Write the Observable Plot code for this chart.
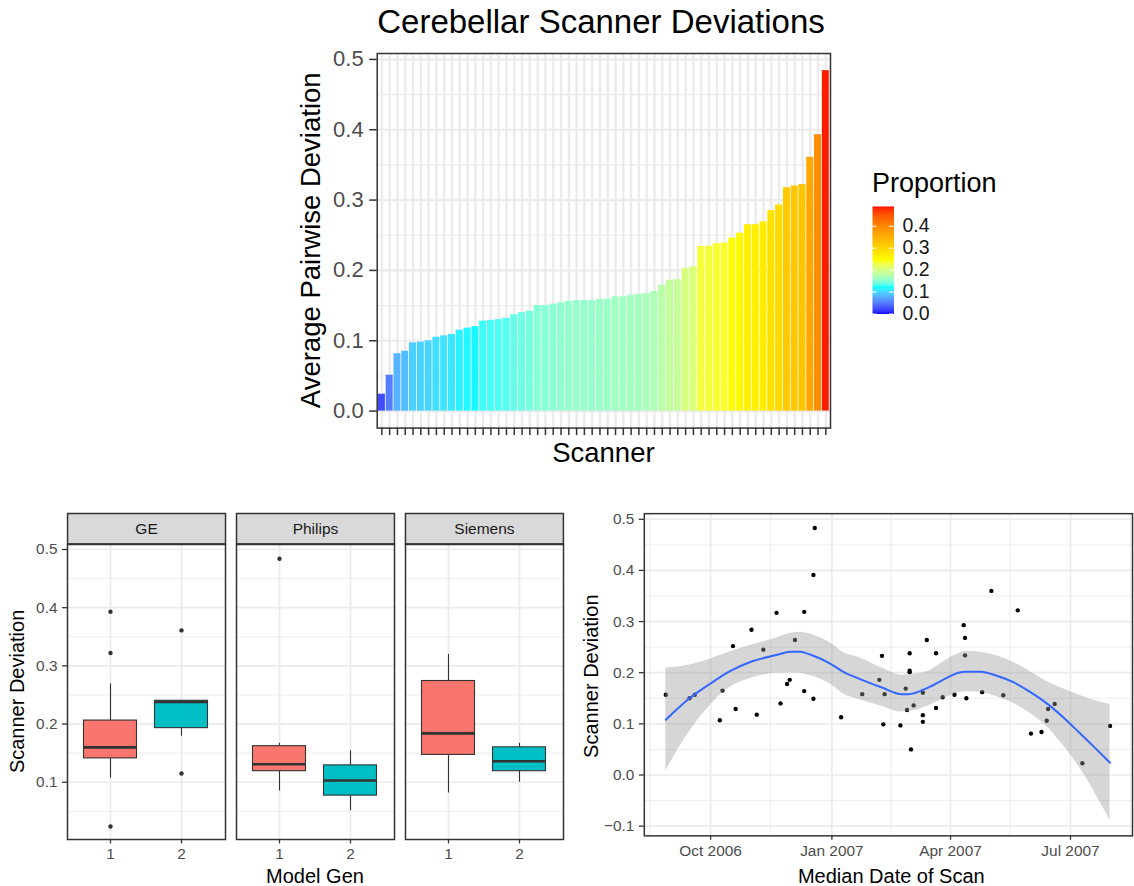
<!DOCTYPE html>
<html>
<head>
<meta charset="utf-8">
<script src="https://cdn.jsdelivr.net/npm/d3@7"></script>
<script src="https://cdn.jsdelivr.net/npm/@observablehq/plot@0.6"></script>
<style>
html, body { margin: 0; padding: 0; background: #fff; overflow: hidden; }
#root { position: relative; width: 1134px; height: 886px; overflow: hidden; background: #fff; }
.part { position: absolute; }
.part svg { display: block; overflow: visible; }
</style>
</head>
<body>
<div id="root"></div>
<script>
// ---------------- DATA ----------------
// Top: average pairwise deviation per scanner (sorted)
const scannerDeviation = [
  0.024, 0.051, 0.0815, 0.085, 0.097, 0.098, 0.100, 0.105, 0.107, 0.109,
  0.115, 0.118, 0.120, 0.128, 0.129, 0.130, 0.132, 0.137, 0.140, 0.142,
  0.150, 0.150, 0.152, 0.154, 0.156, 0.157, 0.157, 0.157, 0.159, 0.159,
  0.1625, 0.1625, 0.1645, 0.166, 0.167, 0.170, 0.179, 0.186, 0.187, 0.203,
  0.205, 0.234, 0.2345, 0.238, 0.239, 0.246, 0.253, 0.265, 0.265, 0.269,
  0.285, 0.293, 0.3175, 0.320, 0.322, 0.361, 0.393, 0.484
];
const scannerLabels = scannerDeviation.map((_, i) => "S" + String(i + 1).padStart(2, "0"));
const devMajorTicks = [0, 0.1, 0.2, 0.3, 0.4, 0.5];
const devMinorTicks = [0.05, 0.15, 0.25, 0.35, 0.45];
const legendTicks = [0, 0.1, 0.2, 0.3, 0.4];

// Bottom-left: box plot summaries
const makes = ["GE", "Philips", "Siemens"];
const boxMake   = ["GE", "GE", "Philips", "Philips", "Siemens", "Siemens"];
const boxGen    = ["1", "2", "1", "2", "1", "2"];
const boxLower  = [0.107, 0.179, 0.085, 0.051, 0.0815, 0.100];
const boxQ1     = [0.141, 0.193, 0.119, 0.077, 0.147, 0.119];
const boxMedian = [0.160, 0.238, 0.131, 0.103, 0.184, 0.136];
const boxQ3     = [0.206, 0.240, 0.162, 0.129, 0.274, 0.160];
const boxUpper  = [0.269, 0.240, 0.167, 0.154, 0.320, 0.167];
const outlierMake  = ["GE", "GE", "GE", "GE", "GE", "Philips"];
const outlierGen   = ["1", "1", "1", "2", "2", "1"];
const outlierValue = [0.393, 0.322, 0.024, 0.361, 0.115, 0.484];
const boxMajorTicks = [0.1, 0.2, 0.3, 0.4, 0.5];
const boxMinorTicks = [0.05, 0.15, 0.25, 0.35, 0.45];

// Bottom-right: scanner deviation vs median scan date
const scanDates = ["2006-08-28","2006-09-15","2006-09-19","2006-10-10","2006-10-08","2006-10-18","2006-10-20","2006-11-01","2006-11-05","2006-11-10",
  "2006-11-20","2006-11-23","2006-11-28","2006-11-30","2006-12-04","2006-12-11","2006-12-11","2006-12-19","2006-12-18","2006-12-18",
  "2007-01-08","2007-01-24","2007-02-08","2007-02-06","2007-02-10","2007-02-09","2007-02-22","2007-02-26","2007-02-27","2007-03-01",
  "2007-03-01","2007-03-01","2007-03-02","2007-03-04","2007-03-11","2007-03-11","2007-03-11","2007-03-14","2007-03-21","2007-03-21",
  "2007-03-26","2007-04-04","2007-04-11","2007-04-12","2007-04-12","2007-04-13","2007-05-02","2007-04-25","2007-05-11","2007-05-22",
  "2007-06-01","2007-06-09","2007-06-13","2007-06-14","2007-06-19","2007-07-10","2007-07-31"];
const scanDeviation = [0.157,0.150,0.157,0.165,0.107,0.252,0.129,0.284,0.118,0.245,
  0.317,0.140,0.178,0.186,0.264,0.319,0.164,0.483,0.391,0.149,
  0.113,0.158,0.233,0.186,0.158,0.099,0.097,0.169,0.127,0.238,
  0.204,0.201,0.050,0.136,0.161,0.117,0.104,0.264,0.238,0.131,
  0.152,0.157,0.293,0.268,0.234,0.150,0.360,0.162,0.156,0.322,
  0.081,0.084,0.106,0.129,0.139,0.023,0.096];
// loess fit
const fitDates = ["2006-08-28","2006-09-15","2006-10-01","2006-10-15","2006-11-01","2006-11-19","2006-12-01","2006-12-08","2006-12-16","2007-01-01",
  "2007-01-10","2007-01-21","2007-02-08","2007-02-23","2007-02-28","2007-03-15","2007-03-30","2007-04-07","2007-04-13","2007-04-24",
  "2007-05-06","2007-05-19","2007-05-31","2007-06-13","2007-06-25","2007-07-08","2007-07-20","2007-07-31"];
const fitValue = [0.108,0.150,0.179,0.202,0.222,0.234,0.241,0.241,0.235,0.216,
  0.201,0.189,0.171,0.158,0.158,0.171,0.191,0.200,0.202,0.202,
  0.194,0.181,0.163,0.140,0.114,0.082,0.052,0.024];
const fitLower = [0.008,0.085,0.137,0.170,0.189,0.199,0.200,0.199,0.194,0.176,
  0.158,0.148,0.134,0.123,0.124,0.135,0.153,0.161,0.163,0.162,
  0.153,0.140,0.121,0.095,0.059,0.014,-0.037,-0.089];
const fitUpper = [0.209,0.215,0.227,0.240,0.254,0.267,0.277,0.279,0.275,0.256,
  0.239,0.230,0.209,0.195,0.196,0.203,0.227,0.237,0.242,0.240,
  0.233,0.220,0.203,0.183,0.169,0.156,0.145,0.138];
const dateMajorTicks = ["2006-10-01", "2007-01-01", "2007-04-01", "2007-07-01"];
const dateMinorTicks = ["2006-08-16T00:00:00Z", "2006-11-15T12:00:00Z", "2007-02-15T00:00:00Z", "2007-05-16T00:00:00Z", "2007-08-15T12:00:00Z"];
const scatMajorTicks = [-0.1, 0, 0.1, 0.2, 0.3, 0.4, 0.5];
const scatMinorTicks = [-0.05, 0.05, 0.15, 0.25, 0.35, 0.45];

// ---------------- STYLE ----------------
const FONT = '"Liberation Sans", Arial, Helvetica, sans-serif';
const GRID = "#EBEBEB";
const INK = "#333333";
const TICKTXT = "#4D4D4D";
const fmt1 = d3.format(".1f");
const colorSpec = {
  type: "linear",
  domain: [0, 0.1225, 0.245, 0.49],
  range: ["#0000FF", "#00FFFF", "#FFFF00", "#FF0000"],
  interpolate: "lab"
};
const baseStyle = {fontFamily: FONT, background: "transparent", overflow: "visible"};

const root = document.getElementById("root");
function place(el, left, top) {
  const d = document.createElement("div");
  d.className = "part";
  d.style.left = left + "px";
  d.style.top = top + "px";
  d.appendChild(el);
  root.appendChild(d);
}

// ---------------- TOP BAR CHART ----------------
const barData = scannerDeviation.map((v, i) => ({scanner: scannerLabels[i], deviation: v}));
const topPlot = Plot.plot({
  width: 1134, height: 472,
  marginLeft: 376.7, marginRight: 1134 - 830, marginTop: 53, marginBottom: 472 - 427.6,
  style: baseStyle,
  x: {type: "band", domain: scannerLabels, paddingInner: 0.1, paddingOuter: 0.15},
  y: {domain: [-0.0242, 0.5084]},
  color: colorSpec,
  marks: [
    Plot.gridY(devMinorTicks, {stroke: GRID, strokeOpacity: 1, strokeWidth: 1.1}),
    Plot.gridY(devMajorTicks, {stroke: GRID, strokeOpacity: 1, strokeWidth: 2.2}),
    Plot.gridX({stroke: GRID, strokeOpacity: 1, strokeWidth: 2.4}),
    Plot.barY(barData, {x: "scanner", y: "deviation", fill: "deviation"}),
    Plot.frame({stroke: INK, strokeWidth: 1.5}),
    Plot.axisY(devMajorTicks, {tickSize: 7.5, tickPadding: 6, tickFormat: fmt1, fontSize: 22,
      fill: TICKTXT, stroke: INK, strokeWidth: 1.5, label: null}),
    Plot.axisX({tickSize: 7.5, tickPadding: 0, tickFormat: () => "", stroke: INK, strokeWidth: 1.5, label: null})
  ]
});
place(topPlot, 0, 0);

// legend colour bar
const legendBarMark = (typeof Plot.raster === "function")
  ? Plot.raster({x1: 0, x2: 1, y1: 0, y2: 0.49, width: 1, height: 256, fill: (x, y) => y})
  : Plot.rectY(d3.range(0, 0.49, 0.0049), {x1: 0, x2: 1, y1: d => d, y2: d => d + 0.0052, fill: d => d});
const legendPlot = Plot.plot({
  width: 150, height: 125,
  marginLeft: 12, marginRight: 150 - 12 - 21.5, marginTop: 6, marginBottom: 125 - 6 - 107.5,
  style: baseStyle,
  x: {domain: [0, 1], axis: null},
  y: {domain: [0, 0.49]},
  color: colorSpec,
  marks: [
    legendBarMark,
    Plot.tickY(legendTicks, {y: d => d, stroke: "white", strokeWidth: 1, insetRight: 17}),
    Plot.tickY(legendTicks, {y: d => d, stroke: "white", strokeWidth: 1, insetLeft: 17}),
    Plot.axisY(legendTicks, {anchor: "right", tickSize: 0, tickPadding: 8.5, fontSize: 19.5,
      fill: "#1A1A1A", tickFormat: fmt1, label: null})
  ]
});
place(legendPlot, 860, 200);

// ---------------- BOTTOM-LEFT BOX PLOTS ----------------
const boxStats = boxMake.map((m, i) => ({
  make: m, gen: boxGen[i], lo: boxLower[i], q1: boxQ1[i], med: boxMedian[i], q3: boxQ3[i], hi: boxUpper[i]
}));
const outliers = outlierMake.map((m, i) => ({make: m, gen: outlierGen[i], value: outlierValue[i]}));
const fxSpec = {domain: makes, paddingInner: 0.0642, paddingOuter: 0, axis: null, label: null};

const stripPlot = Plot.plot({
  width: 570, height: 30.4,
  marginLeft: 65.5, marginRight: 5.5, marginTop: 0, marginBottom: 0,
  style: baseStyle,
  fx: fxSpec,
  marks: [
    Plot.frame({fill: "#D9D9D9", stroke: INK, strokeWidth: 1.5}),
    Plot.text(makes, {fx: d => d, text: d => d, frameAnchor: "middle", fontSize: 15.5, fill: "#1A1A1A"})
  ]
});
place(stripPlot, 0, 513.3);

const boxPlot = Plot.plot({
  width: 570, height: 342,
  marginLeft: 65.5, marginRight: 5.5, marginTop: 0, marginBottom: 47,
  style: baseStyle,
  fx: fxSpec,
  x: {type: "band", domain: ["1", "2"], paddingInner: 0.25, paddingOuter: 0.225},
  y: {domain: [0.0016, 0.5086]},
  color: {type: "ordinal", domain: ["1", "2"], range: ["#F8766D", "#00BFC4"]},
  marks: [
    Plot.gridY(boxMinorTicks, {stroke: GRID, strokeOpacity: 1, strokeWidth: 0.9}),
    Plot.gridY(boxMajorTicks, {stroke: GRID, strokeOpacity: 1, strokeWidth: 1.7}),
    Plot.gridX({stroke: GRID, strokeOpacity: 1, strokeWidth: 1.7}),
    Plot.ruleX(boxStats, {fx: "make", x: "gen", y1: "q3", y2: "hi", stroke: INK, strokeWidth: 1.1}),
    Plot.ruleX(boxStats, {fx: "make", x: "gen", y1: "lo", y2: "q1", stroke: INK, strokeWidth: 1.1}),
    Plot.barY(boxStats, {fx: "make", x: "gen", y1: "q1", y2: "q3", fill: "gen", stroke: INK, strokeWidth: 1.1}),
    Plot.tickY(boxStats, {fx: "make", x: "gen", y: "med", stroke: INK, strokeWidth: 2.6}),
    Plot.dot(outliers, {fx: "make", x: "gen", y: "value", r: 2.2, fill: INK, stroke: null}),
    Plot.frame({stroke: INK, strokeWidth: 1.5}),
    Plot.axisY(boxMajorTicks, {tickSize: 5, tickPadding: 5, tickFormat: fmt1, fontSize: 15.4,
      fill: TICKTXT, stroke: INK, strokeWidth: 1.3, label: null}),
    Plot.axisX({tickSize: 4.5, tickPadding: 4.5, fontSize: 15.4, fill: TICKTXT, stroke: INK, strokeWidth: 1.3, label: null})
  ]
});
place(boxPlot, 0, 544);

// ---------------- BOTTOM-RIGHT SCATTER + SMOOTH ----------------
const points = scanDates.map((d, i) => ({date: new Date(d), dev: scanDeviation[i]}));
const fit = fitDates.map((d, i) => ({date: new Date(d), fit: fitValue[i], lo: fitLower[i], hi: fitUpper[i]}));
const majorDates = dateMajorTicks.map(d => new Date(d));
const minorDates = dateMinorTicks.map(d => new Date(d));

const scatterPlot = Plot.plot({
  width: 560, height: 386,
  marginLeft: 64.5, marginRight: 2, marginTop: 13.3, marginBottom: 47,
  style: baseStyle,
  x: {type: "utc", domain: [new Date("2006-08-11T17:00:00Z"), new Date("2007-08-17T01:00:00Z")]},
  y: {domain: [-0.119, 0.511]},
  marks: [
    Plot.gridY(scatMinorTicks, {stroke: GRID, strokeOpacity: 1, strokeWidth: 0.9}),
    Plot.gridY(scatMajorTicks, {stroke: GRID, strokeOpacity: 1, strokeWidth: 1.7}),
    Plot.gridX(minorDates, {stroke: GRID, strokeOpacity: 1, strokeWidth: 0.9}),
    Plot.gridX(majorDates, {stroke: GRID, strokeOpacity: 1, strokeWidth: 1.7}),
    Plot.dot(points, {x: "date", y: "dev", r: 2.2, fill: "black", stroke: null}),
    Plot.areaY(fit, {x: "date", y1: "lo", y2: "hi", fill: "#999999", fillOpacity: 0.4, curve: "monotone-x"}),
    Plot.line(fit, {x: "date", y: "fit", stroke: "#3366FF", strokeWidth: 2, curve: "monotone-x"}),
    Plot.frame({stroke: INK, strokeWidth: 1.5}),
    Plot.axisY(scatMajorTicks, {tickSize: 5, tickPadding: 5, tickFormat: fmt1, fontSize: 15.6,
      fill: TICKTXT, stroke: INK, strokeWidth: 1.3, label: null}),
    Plot.axisX(majorDates, {tickSize: 4.5, tickPadding: 4.5, tickFormat: d3.utcFormat("%b %Y"), fontSize: 15.6,
      fill: TICKTXT, stroke: INK, strokeWidth: 1.3, label: null})
  ]
});
place(scatterPlot, 580, 500);

// ---------------- TITLES ----------------
const overlay = d3.create("svg")
  .attr("width", 1134).attr("height", 886)
  .style("position", "absolute").style("left", "0px").style("top", "0px")
  .style("pointer-events", "none").style("font-family", FONT);
function addText(txt, x, y, size, opts = {}) {
  const t = overlay.append("text")
    .attr("x", x).attr("y", y)
    .attr("font-size", size)
    .attr("fill", opts.fill || "#000")
    .attr("text-anchor", opts.anchor || "middle")
    .text(txt);
  if (opts.rotate) t.attr("transform", `rotate(-90 ${x} ${y})`);
}
addText("Cerebellar Scanner Deviations", 601, 33, 33);
addText("Average Pairwise Deviation", 320.5, 240.3, 27.5, {rotate: true});
addText("Scanner", 603.4, 461.7, 27.5);
addText("Proportion", 872, 192, 27, {anchor: "start"});
addText("Scanner Deviation", 24, 691.4, 20, {rotate: true});
addText("Model Gen", 315, 883, 20);
addText("Scanner Deviation", 598.5, 676.2, 20, {rotate: true});
addText("Median Date of Scan", 891.3, 883, 20);
root.appendChild(overlay.node());
</script>
</body>
</html>
